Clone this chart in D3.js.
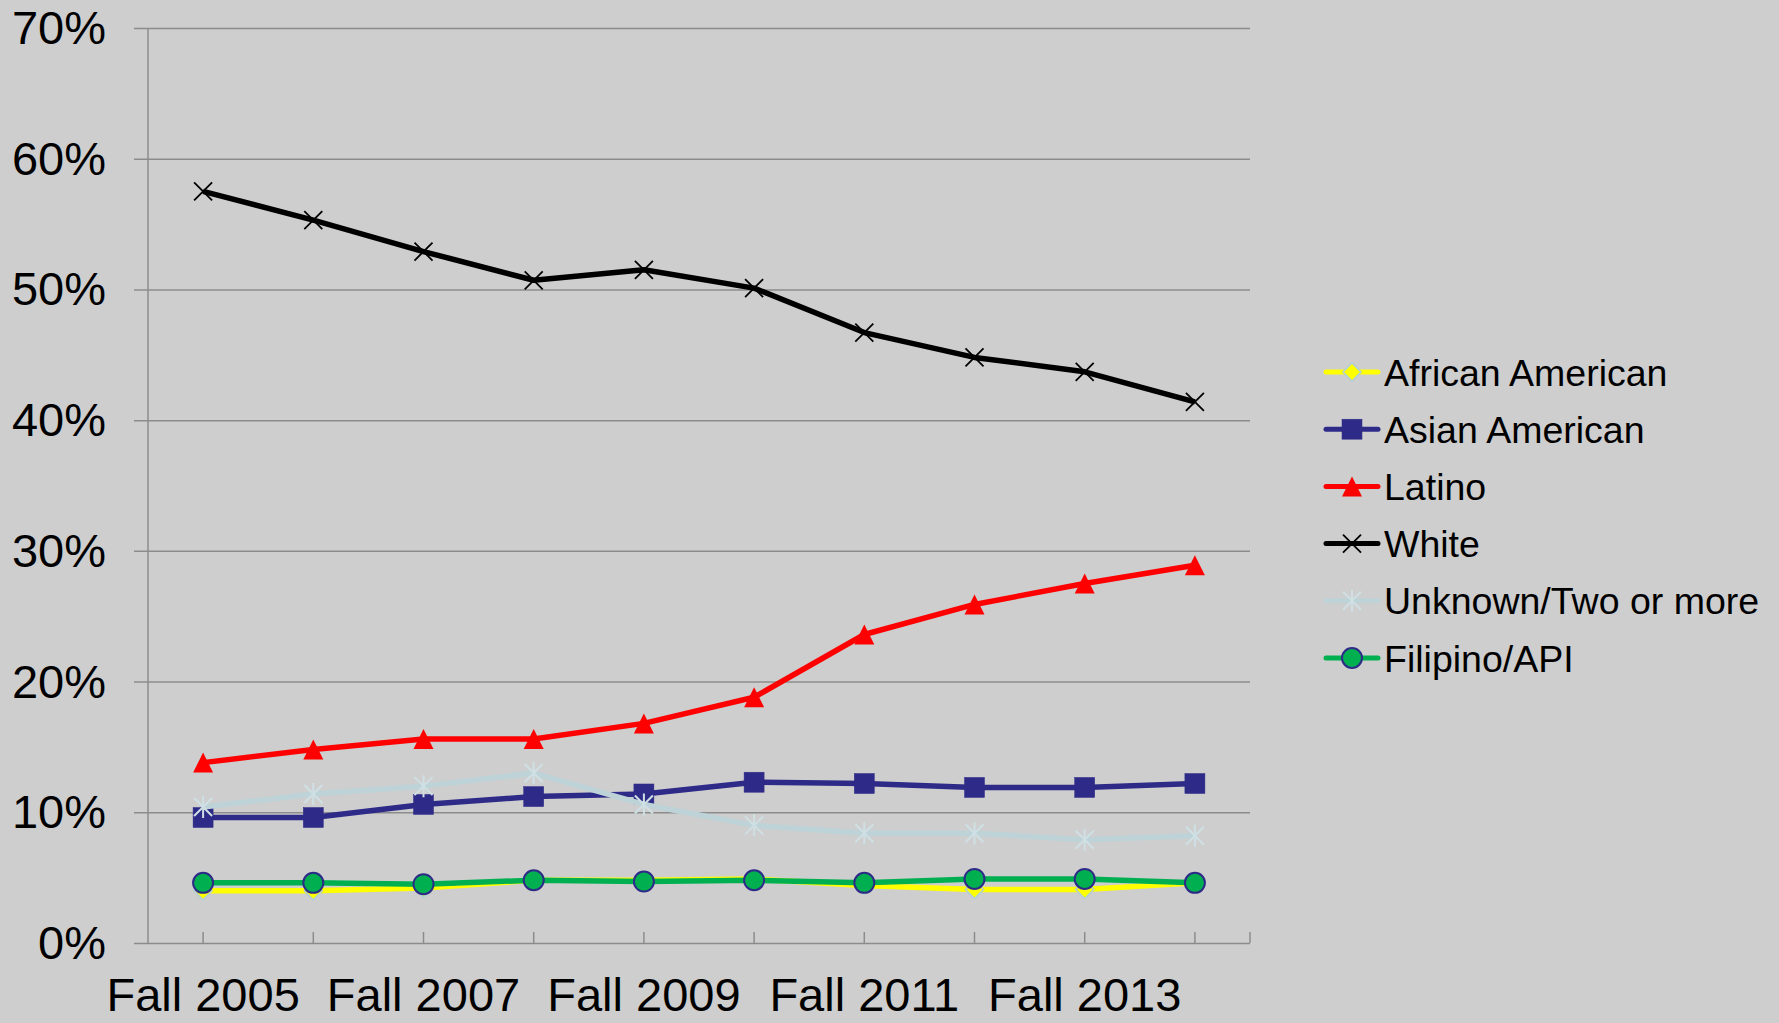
<!DOCTYPE html>
<html lang="en">
<head>
<meta charset="UTF-8">
<title>Enrollment by Ethnicity</title>
<script src="https://d3js.org/d3.v7.min.js"></script>
<style>
  html, body { margin: 0; padding: 0; background: #cecece; }
  svg { display: block; font-family: "Liberation Sans", Arial, sans-serif; }
</style>
</head>
<body>
<svg id="chart" width="1779" height="1023"></svg>
<script>
// data (percent)
const categories = ["Fall 2005", "Fall 2006", "Fall 2007", "Fall 2008", "Fall 2009",
                    "Fall 2010", "Fall 2011", "Fall 2012", "Fall 2013", "Fall 2014"];
const yTicks = [0, 10, 20, 30, 40, 50, 60, 70];

const african  = [4.0, 4.0, 4.2, 4.8, 4.8, 4.9, 4.4, 4.1, 4.1, 4.6];
const asian    = [9.6, 9.6, 10.6, 11.2, 11.4, 12.3, 12.2, 11.9, 11.9, 12.2];
const latino   = [13.8, 14.8, 15.6, 15.6, 16.8, 18.8, 23.6, 25.9, 27.5, 28.9];
const white    = [57.5, 55.3, 52.9, 50.7, 51.5, 50.1, 46.7, 44.8, 43.7, 41.4];
const unknown  = [10.4, 11.4, 12.0, 13.0, 10.6, 9.0, 8.4, 8.4, 7.9, 8.2];
const filipino = [4.6, 4.6, 4.5, 4.8, 4.7, 4.8, 4.6, 4.9, 4.9, 4.6];

const series = [
  { name: "African American", values: african, color: "#ffff00", marker: "diamond" },
  { name: "Asian American", values: asian, color: "#2e2b88", marker: "square" },
  { name: "Latino", values: latino, color: "#ff0000", marker: "triangle" },
  { name: "White", values: white, color: "#000000", marker: "x" },
  { name: "Unknown/Two or more", values: unknown, color: "#bdd3d7", marker: "star" },
  { name: "Filipino/API", values: filipino, color: "#00b050", marker: "circle" }
];

const svg = d3.select("#chart");
const plotLeft = 148, plotRight = 1250, plotTop = 28, plotBottom = 943;
const gridColor = "#8c8c8c";

const x = d3.scaleBand().domain(categories).range([plotLeft, plotRight]).padding(0);
const y = d3.scaleLinear().domain([0, 70]).range([plotBottom, plotTop]);
const cx = d => x(d) + x.bandwidth() / 2;

// horizontal gridlines + outside ticks
const yAxis = svg.append("g")
  .attr("transform", `translate(${plotRight},0)`)
  .call(d3.axisLeft(y).tickValues(yTicks).tickSize(plotRight - plotLeft + 14).tickFormat(d => d + "%"));
yAxis.select(".domain").remove();
yAxis.selectAll(".tick line").attr("stroke", gridColor).attr("stroke-width", 1.5);
yAxis.selectAll(".tick text")
  .attr("fill", "#000").attr("font-size", 47).attr("font-family", "Liberation Sans, Arial, sans-serif")
  .attr("x", -(plotRight - plotLeft) - 42).attr("dy", "0.33em");

// vertical axis line
svg.append("line")
  .attr("x1", plotLeft).attr("x2", plotLeft).attr("y1", y(70)).attr("y2", y(0))
  .attr("stroke", gridColor).attr("stroke-width", 1.5);

// category axis with inward ticks
const xAxis = svg.append("g")
  .attr("transform", `translate(0,${plotBottom})`)
  .call(d3.axisBottom(x).tickSize(-11).tickFormat((d, i) => i % 2 === 0 ? d : ""));
xAxis.select(".domain").remove();
xAxis.selectAll(".tick line").attr("stroke", gridColor).attr("stroke-width", 1.5);
xAxis.selectAll(".tick text")
  .attr("fill", "#000").attr("font-size", 47).attr("font-family", "Liberation Sans, Arial, sans-serif")
  .attr("y", 68).attr("dy", 0);
svg.append("line")
  .attr("x1", plotRight).attr("x2", plotRight).attr("y1", plotBottom).attr("y2", plotBottom - 11)
  .attr("stroke", gridColor).attr("stroke-width", 1.5);

// marker shapes, centred on 0,0
function drawMarker(g, s) {
  const r = 10;
  if (s.marker === "diamond") {
    g.append("path").attr("d", "M0,-9L9,0L0,9L-9,0Z")
      .attr("fill", "#ffff00").attr("stroke", "#aecfd6").attr("stroke-width", 1.5);
  } else if (s.marker === "square") {
    g.append("rect").attr("x", -r).attr("y", -r).attr("width", 2 * r).attr("height", 2 * r)
      .attr("fill", s.color).attr("stroke", s.color).attr("stroke-width", 0.5);
  } else if (s.marker === "triangle") {
    g.append("path").attr("d", `M0,${-r}L${r},${r}L${-r},${r}Z`).attr("fill", s.color);
  } else if (s.marker === "x") {
    g.append("path").attr("d", "M-9,-9L9,9M-9,9L9,-9")
      .attr("stroke", "#000").attr("stroke-width", 1.8).attr("fill", "none");
  } else if (s.marker === "star") {
    g.append("path").attr("d", "M-9,-9L9,9M-9,9L9,-9M0,-11L0,11")
      .attr("stroke", "#cfe0e4").attr("stroke-width", 2).attr("fill", "none");
  } else if (s.marker === "circle") {
    g.append("circle").attr("r", r)
      .attr("fill", s.color).attr("stroke", "#2e2b88").attr("stroke-width", 2);
  }
}

const line = d3.line().x((d, i) => cx(categories[i])).y(d => y(d));

series.forEach(s => {
  const g = svg.append("g");
  g.append("path")
    .attr("d", line(s.values))
    .attr("fill", "none")
    .attr("stroke", s.color)
    .attr("stroke-width", 5.5)
    .attr("stroke-linejoin", "round");
  s.values.forEach((v, i) => {
    const m = g.append("g").attr("transform", `translate(${cx(categories[i])},${y(v)})`);
    drawMarker(m, s);
  });
});

// legend
const legend = svg.append("g");
const legY = d3.scalePoint().domain(series.map(s => s.name)).range([372, 658]);
series.forEach(s => {
  const gy = legY(s.name);
  legend.append("line")
    .attr("x1", 1326).attr("x2", 1378).attr("y1", gy).attr("y2", gy)
    .attr("stroke", s.color).attr("stroke-width", 5).attr("stroke-linecap", "round");
  const m = legend.append("g").attr("transform", `translate(1352,${gy})`);
  drawMarker(m, s);
  legend.append("text")
    .attr("x", 1384).attr("y", gy).attr("dy", "0.36em")
    .attr("font-size", 37.5).attr("fill", "#000")
    .text(s.name);
});
</script>
</body>
</html>
